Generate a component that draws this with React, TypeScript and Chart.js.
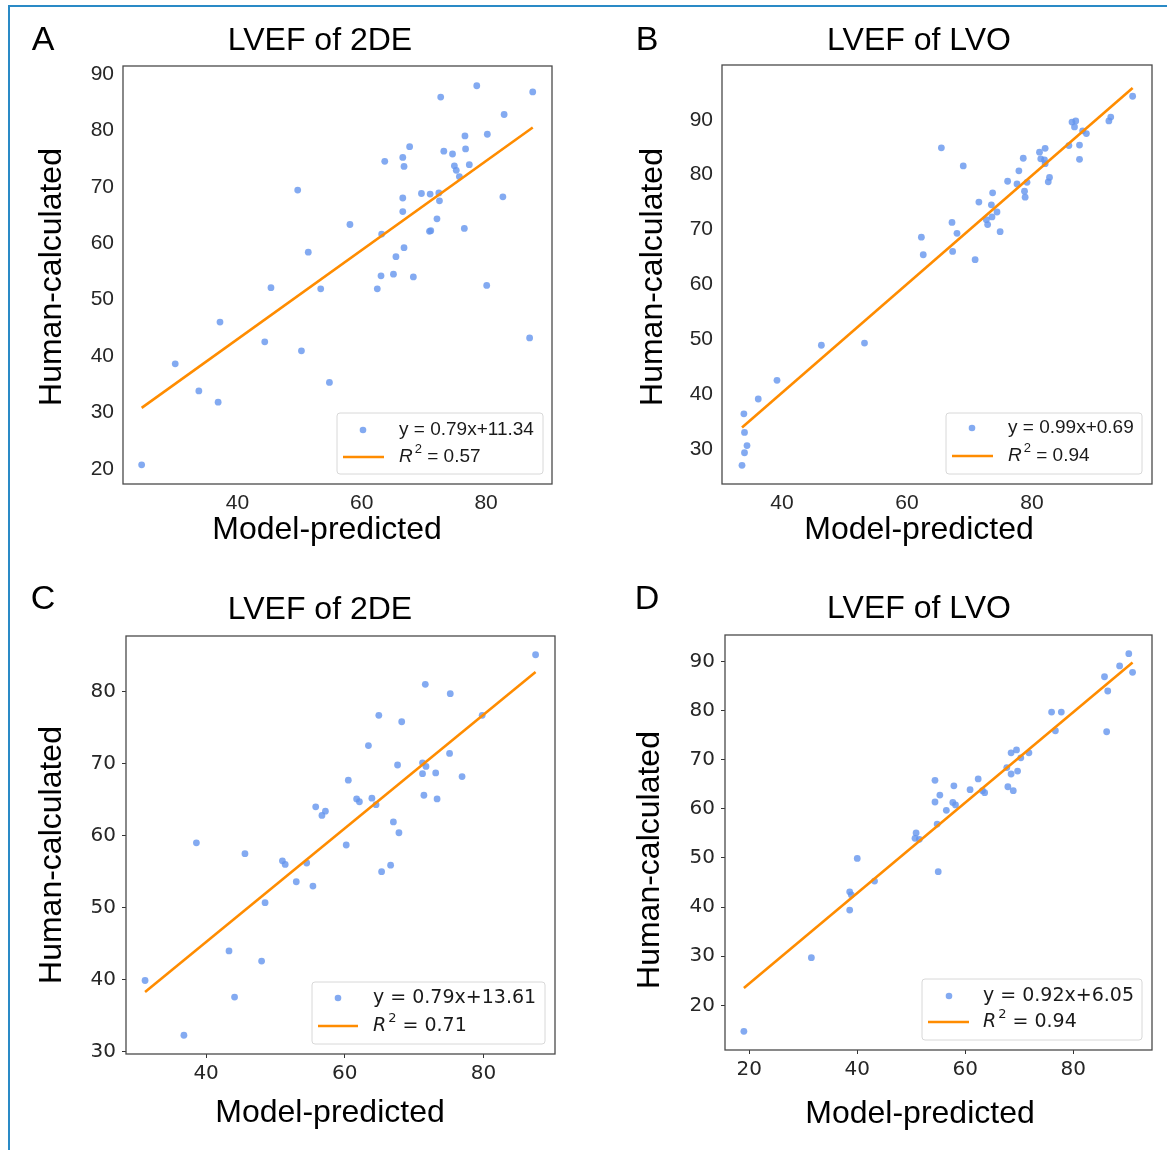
import React, { useEffect, useRef } from "react";
import { Chart, registerables } from "chart.js";

Chart.register(...registerables);

// ---------- Panel A: LVEF of 2DE ----------
const aModel = [78.5, 72.7, 87.5, 82.9, 80.2, 76.6, 67.7, 76.7, 73.2, 74.6, 66.6, 63.7, 66.8, 74.9, 75.2, 77.3, 75.7, 49.7, 69.6, 71.0, 72.4, 72.5, 66.6, 66.6, 82.7, 72.1, 58.1, 70.9, 71.1, 76.5, 63.2, 51.4, 66.8, 65.5, 63.1, 65.1, 68.3, 45.4, 53.4, 62.5, 80.1, 37.2, 44.4, 50.3, 87.0, 30.0, 54.8, 33.8, 36.9, 24.6];
const aHuman = [87.9, 85.9, 86.8, 82.8, 79.3, 79.0, 77.1, 76.7, 76.3, 75.8, 75.2, 74.5, 73.6, 73.7, 72.9, 73.9, 71.8, 69.4, 68.8, 68.7, 68.9, 67.5, 68.0, 65.6, 68.2, 64.3, 63.3, 62.1, 62.2, 62.6, 61.6, 58.4, 59.2, 57.6, 54.2, 54.5, 54.0, 52.1, 51.9, 51.9, 52.5, 46.0, 42.5, 40.9, 43.2, 38.6, 35.3, 33.8, 31.8, 20.7];
const aFitX = [24.6, 87.5];
const aFitY = [30.8, 80.5];
const aXTicks = [40, 60, 80];
const aYTicks = [20, 30, 40, 50, 60, 70, 80, 90];

// ---------- Panel B: LVEF of LVO ----------
const bModel = [96.1, 92.6, 92.3, 86.4, 87.0, 86.8, 88.1, 88.7, 85.9, 87.6, 87.6, 65.5, 81.2, 82.1, 81.4, 82.0, 82.1, 78.6, 69.0, 77.9, 82.8, 82.6, 76.1, 77.6, 79.2, 78.8, 78.9, 73.7, 71.5, 73.5, 74.4, 73.6, 72.7, 72.9, 74.9, 67.2, 68.0, 62.3, 62.6, 67.3, 70.9, 46.3, 53.2, 39.2, 36.2, 33.9, 34.0, 34.4, 34.0, 33.6];
const bHuman = [94.3, 90.5, 89.8, 89.6, 89.8, 88.7, 88.0, 87.5, 85.3, 85.4, 82.8, 84.9, 84.1, 84.8, 82.9, 82.7, 82.0, 83.0, 81.6, 80.7, 79.5, 78.7, 78.8, 78.3, 78.6, 77.0, 75.9, 76.7, 75.0, 74.5, 73.2, 72.3, 71.8, 70.9, 69.6, 71.3, 69.3, 68.6, 65.4, 66.0, 64.5, 48.9, 49.3, 42.5, 39.1, 36.4, 33.0, 30.6, 29.3, 27.0];
const bFitX = [33.6, 96.1];
const bFitY = [33.9, 95.8];
const bXTicks = [40, 60, 80];
const bYTicks = [30, 40, 50, 60, 70, 80, 90];

// ---------- Panel C: LVEF of 2DE ----------
const cModel = [87.5, 71.6, 75.2, 64.9, 68.2, 79.8, 63.4, 75.1, 67.6, 71.2, 71.7, 71.2, 73.1, 76.9, 60.5, 71.4, 73.3, 61.7, 62.1, 63.9, 64.5, 55.8, 57.2, 56.7, 67.0, 67.8, 60.2, 38.6, 45.6, 51.0, 51.4, 54.5, 66.6, 65.3, 53.0, 55.4, 48.5, 43.3, 48.0, 31.2, 44.1, 36.8];
const cHuman = [85.1, 81.0, 79.7, 76.7, 75.8, 76.7, 72.5, 71.4, 69.8, 70.1, 69.6, 68.6, 68.7, 68.2, 67.7, 65.6, 65.1, 65.1, 64.7, 65.2, 64.3, 64.0, 63.4, 62.8, 61.9, 60.4, 58.7, 59.0, 57.5, 56.5, 56.0, 56.2, 55.9, 55.0, 53.6, 53.0, 50.7, 44.0, 42.6, 39.9, 37.6, 32.3];
const cFitX = [31.2, 87.5];
const cFitY = [38.3, 82.7];
const cXTicks = [40, 60, 80];
const cYTicks = [30, 40, 50, 60, 70, 80];

// ---------- Panel D: LVEF of LVO ----------
const dModel = [90.3, 88.6, 91.0, 85.8, 86.4, 76.0, 77.8, 76.7, 86.2, 69.5, 68.5, 71.8, 70.3, 67.7, 68.5, 69.7, 67.9, 68.9, 62.4, 60.9, 63.2, 63.6, 54.4, 57.9, 55.3, 54.4, 57.7, 58.2, 56.5, 54.8, 50.9, 50.7, 51.5, 55.0, 40.0, 43.2, 38.6, 38.9, 38.6, 31.5, 19.0];
const dHuman = [91.6, 89.1, 87.8, 86.9, 84.0, 79.7, 79.7, 75.9, 75.7, 72.0, 71.4, 71.4, 70.4, 68.4, 67.1, 67.7, 64.5, 63.7, 66.1, 63.9, 63.7, 63.3, 65.8, 64.7, 62.8, 61.4, 61.3, 60.8, 59.7, 56.9, 55.1, 54.0, 53.8, 47.2, 49.9, 45.3, 43.1, 42.5, 39.4, 29.7, 14.7];
const dFitX = [19.0, 91.0];
const dFitY = [23.5, 89.8];
const dXTicks = [20, 40, 60, 80];
const dYTicks = [20, 30, 40, 50, 60, 70, 80, 90];

const SANS = "'Liberation Sans', Arial, Helvetica, sans-serif";
const DEJAVU = "'DejaVu Sans', sans-serif";
const POINT_COLOR = "rgba(100,149,237,0.8)";
const LINE_COLOR = "#ff8c00";

type PanelCfg = {
  letter: string;
  title: string;
  xs: number[];
  ys: number[];
  fx: number[];
  fy: number[];
  xTicks: number[];
  yTicks: number[];
  xMin: number; xMax: number; yMin: number; yMax: number;
  eq: string; r2: string;
  canvas: { left: number; top: number; width: number; height: number };
  area: { left: number; top: number; right: number; bottom: number };
  tickFont: string; tickSize: number; tickMarks: boolean;
  yPad: number; xPad: number;
  letterPos: [number, number];
  titlePos: [number, number];
  xTitlePos: [number, number];
  yTitlePos: [number, number];
  legend: { x0: number; y0: number; x1: number; y1: number; mx: number; ly1: number; ly2: number; lx0: number; lx1: number; tx: number; font: string; size: number };
};

const panels: PanelCfg[] = [
  {
    letter: "A", title: "LVEF of 2DE", xs: aModel, ys: aHuman, fx: aFitX, fy: aFitY,
    xTicks: aXTicks, yTicks: aYTicks, xMin: 21.6, xMax: 90.6, yMin: 17.3, yMax: 91.4,
    eq: "y = 0.79x+11.34", r2: " = 0.57",
    canvas: { left: 0, top: 0, width: 583, height: 575 },
    area: { left: 123, top: 66, right: 552, bottom: 484 },
    tickFont: SANS, tickSize: 21, tickMarks: false, yPad: 9, xPad: 7,
    letterPos: [43, 41], titlePos: [320, 41], xTitlePos: [327, 530], yTitlePos: [52, 277],
    legend: { x0: 337, y0: 413, x1: 543, y1: 474, mx: 363, ly1: 430, ly2: 457, lx0: 343, lx1: 384, tx: 399, font: SANS, size: 19 },
  },
  {
    letter: "B", title: "LVEF of LVO", xs: bModel, ys: bHuman, fx: bFitX, fy: bFitY,
    xTicks: bXTicks, yTicks: bYTicks, xMin: 30.4, xMax: 99.2, yMin: 23.6, yMax: 100.0,
    eq: "y = 0.99x+0.69", r2: " = 0.94",
    canvas: { left: 583, top: 0, width: 584, height: 575 },
    area: { left: 722, top: 65, right: 1152, bottom: 484 },
    tickFont: SANS, tickSize: 21, tickMarks: false, yPad: 9, xPad: 7,
    letterPos: [647, 41], titlePos: [919, 41], xTitlePos: [919, 530], yTitlePos: [653, 277],
    legend: { x0: 946, y0: 413, x1: 1142, y1: 474, mx: 972, ly1: 428, ly2: 456, lx0: 952, lx1: 993, tx: 1008, font: SANS, size: 19 },
  },
  {
    letter: "C", title: "LVEF of 2DE", xs: cModel, ys: cHuman, fx: cFitX, fy: cFitY,
    xTicks: cXTicks, yTicks: cYTicks, xMin: 28.45, xMax: 90.3, yMin: 29.7, yMax: 87.7,
    eq: "y = 0.79x+13.61", r2: " = 0.71",
    canvas: { left: 0, top: 575, width: 583, height: 575 },
    area: { left: 126, top: 636, right: 555, bottom: 1054 },
    tickFont: DEJAVU, tickSize: 20, tickMarks: true, yPad: 6, xPad: 4,
    letterPos: [43, 600], titlePos: [320, 610], xTitlePos: [330, 1113], yTitlePos: [52, 855],
    legend: { x0: 312, y0: 982, x1: 545, y1: 1044, mx: 338, ly1: 998, ly2: 1026, lx0: 318, lx1: 358, tx: 373, font: DEJAVU, size: 19 },
  },
  {
    letter: "D", title: "LVEF of LVO", xs: dModel, ys: dHuman, fx: dFitX, fy: dFitY,
    xTicks: dXTicks, yTicks: dYTicks, xMin: 15.5, xMax: 94.6, yMin: 10.9, yMax: 95.4,
    eq: "y = 0.92x+6.05", r2: " = 0.94",
    canvas: { left: 583, top: 575, width: 584, height: 575 },
    area: { left: 725, top: 635, right: 1152, bottom: 1050 },
    tickFont: DEJAVU, tickSize: 20, tickMarks: true, yPad: 6, xPad: 4,
    letterPos: [647, 600], titlePos: [919, 609], xTitlePos: [920, 1114], yTitlePos: [650, 860],
    legend: { x0: 922, y0: 979, x1: 1142, y1: 1040, mx: 949, ly1: 996, ly2: 1022, lx0: 928, lx1: 969, tx: 983, font: DEJAVU, size: 19 },
  },
];

const Y_AXIS_W = 50;
const X_AXIS_H = 40;

function makeDeco(p: PanelCfg) {
  const ox = p.canvas.left;
  const oy = p.canvas.top;
  return {
    id: "deco" + p.letter,
    afterDatasetsDraw(chart: any) {
      const ctx: CanvasRenderingContext2D = chart.ctx;
      const ca = chart.chartArea;
      ctx.save();
      // axes frame
      ctx.strokeStyle = "#4a4a4a";
      ctx.lineWidth = 1.3;
      ctx.strokeRect(ca.left, ca.top, ca.right - ca.left, ca.bottom - ca.top);

      // legend
      const L = p.legend;
      const x0 = L.x0 - ox, y0 = L.y0 - oy, w = L.x1 - L.x0, h = L.y1 - L.y0;
      ctx.beginPath();
      const r = 3;
      ctx.moveTo(x0 + r, y0);
      ctx.lineTo(x0 + w - r, y0);
      ctx.quadraticCurveTo(x0 + w, y0, x0 + w, y0 + r);
      ctx.lineTo(x0 + w, y0 + h - r);
      ctx.quadraticCurveTo(x0 + w, y0 + h, x0 + w - r, y0 + h);
      ctx.lineTo(x0 + r, y0 + h);
      ctx.quadraticCurveTo(x0, y0 + h, x0, y0 + h - r);
      ctx.lineTo(x0, y0 + r);
      ctx.quadraticCurveTo(x0, y0, x0 + r, y0);
      ctx.closePath();
      ctx.fillStyle = "rgba(255,255,255,0.85)";
      ctx.fill();
      ctx.strokeStyle = "#d8d8d8";
      ctx.lineWidth = 1;
      ctx.stroke();

      ctx.fillStyle = POINT_COLOR;
      ctx.beginPath();
      ctx.arc(L.mx - ox, L.ly1 - oy, 3.3, 0, Math.PI * 2);
      ctx.fill();

      ctx.strokeStyle = LINE_COLOR;
      ctx.lineWidth = 2.5;
      ctx.beginPath();
      ctx.moveTo(L.lx0 - ox, L.ly2 - oy);
      ctx.lineTo(L.lx1 - ox, L.ly2 - oy);
      ctx.stroke();

      ctx.fillStyle = "#1a1a1a";
      ctx.textBaseline = "middle";
      ctx.textAlign = "left";
      ctx.font = `${L.size}px ${L.font}`;
      ctx.fillText(p.eq, L.tx - ox, L.ly1 - oy);
      ctx.font = `italic ${L.size}px ${L.font}`;
      ctx.fillText("R", L.tx - ox, L.ly2 - oy);
      const wR = ctx.measureText("R").width;
      const sup = Math.round(L.size * 0.7);
      ctx.font = `${sup}px ${L.font}`;
      ctx.fillText("2", L.tx - ox + wR + 2, L.ly2 - oy - L.size * 0.38);
      const w2 = ctx.measureText("2").width;
      ctx.font = `${L.size}px ${L.font}`;
      ctx.fillText(p.r2, L.tx - ox + wR + 2 + w2, L.ly2 - oy);
      ctx.restore();
    },
    afterDraw(chart: any) {
      const ctx: CanvasRenderingContext2D = chart.ctx;
      ctx.save();
      ctx.fillStyle = "#000";
      ctx.textBaseline = "middle";
      ctx.textAlign = "center";
      ctx.font = `34px ${SANS}`;
      ctx.fillText(p.letter, p.letterPos[0] - ox, p.letterPos[1] - oy);
      ctx.font = `32px ${SANS}`;
      ctx.fillText(p.title, p.titlePos[0] - ox, p.titlePos[1] - oy);
      ctx.fillText("Model-predicted", p.xTitlePos[0] - ox, p.xTitlePos[1] - oy);
      ctx.translate(p.yTitlePos[0] - ox, p.yTitlePos[1] - oy);
      ctx.rotate(-Math.PI / 2);
      ctx.fillText("Human-calculated", 0, 0);
      ctx.restore();
    },
  };
}

function Panel({ p }: { p: PanelCfg }) {
  const ref = useRef<HTMLCanvasElement | null>(null);
  useEffect(() => {
    if (!ref.current) return;
    const c = p.canvas;
    const a = p.area;
    const grid = {
      display: p.tickMarks,
      drawOnChartArea: false,
      drawTicks: p.tickMarks,
      tickLength: 4,
      color: "#333",
      lineWidth: 1,
    };
    const chart = new Chart(ref.current, {
      type: "scatter",
      data: {
        datasets: [
          {
            label: p.eq,
            data: p.xs.map((x, i) => ({ x, y: p.ys[i] })),
            backgroundColor: POINT_COLOR,
            borderWidth: 0,
            pointRadius: 3.4,
            showLine: false,
            order: 2,
          },
          {
            label: "R2" + p.r2,
            data: p.fx.map((x, i) => ({ x, y: p.fy[i] })),
            borderColor: LINE_COLOR,
            borderWidth: 2.6,
            pointRadius: 0,
            showLine: true,
            fill: false,
            order: 1,
          },
        ],
      },
      options: {
        animation: false,
        responsive: false,
        devicePixelRatio: 1,
        layout: {
          padding: {
            left: a.left - c.left - Y_AXIS_W,
            right: c.left + c.width - a.right,
            top: a.top - c.top,
            bottom: c.top + c.height - a.bottom - X_AXIS_H,
          },
        },
        plugins: {
          legend: { display: false },
          tooltip: { enabled: false },
          title: { display: false },
        },
        scales: {
          x: {
            type: "linear",
            min: p.xMin,
            max: p.xMax,
            afterBuildTicks: (s: any) => {
              s.ticks = p.xTicks.map((v) => ({ value: v }));
            },
            afterFit: (s: any) => {
              s.height = X_AXIS_H;
            },
            grid,
            border: { display: false },
            ticks: {
              font: { family: p.tickFont, size: p.tickSize },
              color: "#262626",
              padding: p.xPad,
              maxRotation: 0,
              autoSkip: false,
            },
          },
          y: {
            type: "linear",
            min: p.yMin,
            max: p.yMax,
            afterBuildTicks: (s: any) => {
              s.ticks = p.yTicks.map((v) => ({ value: v }));
            },
            afterFit: (s: any) => {
              s.width = Y_AXIS_W;
            },
            grid,
            border: { display: false },
            ticks: {
              font: { family: p.tickFont, size: p.tickSize },
              color: "#262626",
              padding: p.yPad,
              autoSkip: false,
            },
          },
        },
      },
      plugins: [makeDeco(p)],
    } as any);
    return () => chart.destroy();
  }, [p]);
  return (
    <canvas
      ref={ref}
      width={p.canvas.width}
      height={p.canvas.height}
      style={{
        position: "absolute",
        left: p.canvas.left,
        top: p.canvas.top,
        width: p.canvas.width,
        height: p.canvas.height,
      }}
    />
  );
}

export default function App() {
  return (
    <div
      style={{
        position: "absolute",
        left: 0,
        top: 0,
        width: 1167,
        height: 1150,
        background: "#fff",
        overflow: "hidden",
      }}
    >
      {panels.map((p) => (
        <Panel key={p.letter} p={p} />
      ))}
      <div style={{ position: "absolute", left: 8, top: 5, width: 1159, height: 2, background: "#2a8ac6" }} />
      <div style={{ position: "absolute", left: 8, top: 5, width: 2, height: 1145, background: "#2a8ac6" }} />
    </div>
  );
}
